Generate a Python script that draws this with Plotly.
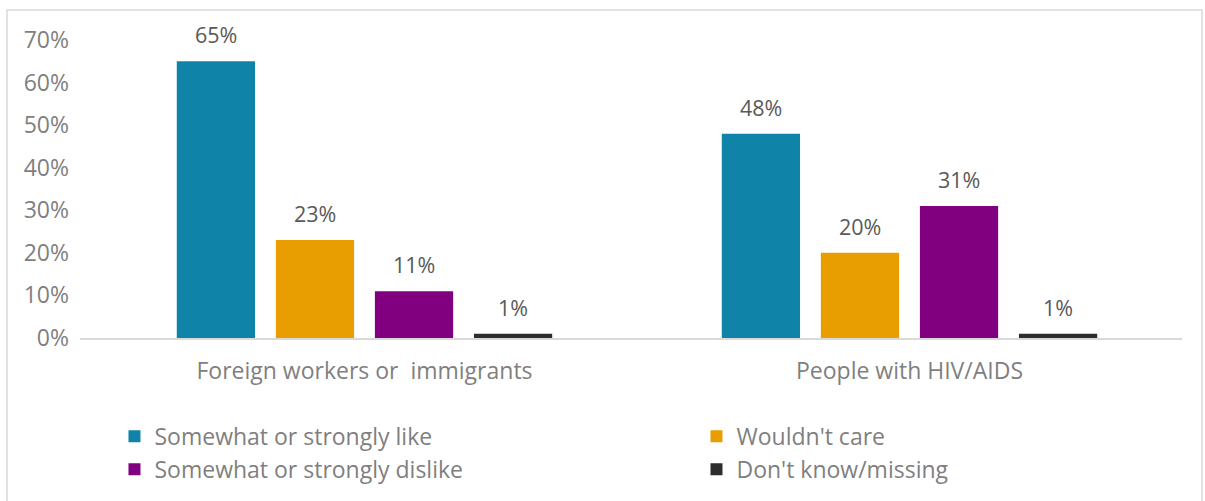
import plotly.graph_objects as go

categories = ["Foreign workers or  immigrants", "People with HIV/AIDS"]
series_names = ["Somewhat or strongly like", "Wouldn't care", "Somewhat or strongly dislike", "Don't know/missing"]
series_values = [
    [0.65, 0.48],
    [0.23, 0.20],
    [0.11, 0.31],
    [0.01, 0.01],
]
series_colors = ["#1083A8", "#E89E00", "#800080", "#2D2D2D"]
legend_slots = ["legend", "legend2", "legend", "legend2"]
tick_vals = [0, 0.1, 0.2, 0.3, 0.4, 0.5, 0.6, 0.7]
tick_text = ["0%", "10%", "20%", "30%", "40%", "50%", "60%", "70%"]

FONT = "Open Sans, Lato, sans-serif"
BARGAP = 0.273
n_series = len(series_names)
slot = (1 - BARGAP) / n_series

fig = go.Figure()
for k, (name, vals, col, lg) in enumerate(zip(series_names, series_values, series_colors, legend_slots)):
    fig.add_trace(go.Bar(name=name, x=categories, y=vals, marker=dict(color=col, line=dict(width=0)),
                         hoverinfo="skip", legend=lg, legendgroup=f"g{k}"))

annotations = []
for s, vals in enumerate(series_values):
    offset = (s - (n_series - 1) / 2) * slot
    for i, v in enumerate(vals):
        annotations.append(dict(x=i + offset, y=v, xref="x", yref="y", text=f"{round(v*100)}%",
                                showarrow=False, yanchor="bottom", yshift=10,
                                font=dict(family=FONT, size=21.5, color="#595959")))

# plot area pixels: left 80, right 1182, top 40, bottom 338
L, R, T, B = 80, 1182, 40, 338
W, H = 1205, 501
pw, ph = R - L, B - T

def px_x(x):
    return (x - L) / pw

def px_y(y):
    return (B - y) / ph

fig.add_shape(type="rect", xref="paper", yref="paper",
              x0=px_x(7), x1=px_x(1202), y0=px_y(520), y1=px_y(10),
              line=dict(color="#D9D9D9", width=1.5), fillcolor="rgba(0,0,0,0)", layer="below")

legend_font = dict(family=FONT, size=23, color="#7F7F7F")
common_legend = dict(orientation="v", xref="container", yref="container", xanchor="left", yanchor="top",
                     font=legend_font, traceorder="normal", tracegroupgap=9, bgcolor="rgba(0,0,0,0)")

fig.update_layout(
    width=W, height=H,
    margin=dict(l=L, r=W - R, t=T, b=H - B, pad=0, autoexpand=False),
    paper_bgcolor="white", plot_bgcolor="white",
    barmode="group", bargap=BARGAP, bargroupgap=0.21,
    showlegend=True,
    legend=dict(x=0.095, y=0.172, **common_legend),
    legend2=dict(x=0.578, y=0.172, **common_legend),
    annotations=annotations,
    xaxis=dict(type="category", range=[-0.522, 1.5], showline=True, linecolor="#D9D9D9", linewidth=1.5,
               ticks="", showgrid=False, zeroline=False, tickangle=0, automargin=False,
               tickfont=dict(family=FONT, size=23, color="#7F7F7F"), ticklabelstandoff=12),
    yaxis=dict(range=[0, 0.7], tickvals=tick_vals, ticktext=tick_text, showgrid=False, zeroline=False,
               showline=False, ticks="", tickfont=dict(family=FONT, size=23, color="#7F7F7F"),
               ticklabelstandoff=10, automargin=False),
    font=dict(family=FONT),
)

fig.write_html("out.html")
